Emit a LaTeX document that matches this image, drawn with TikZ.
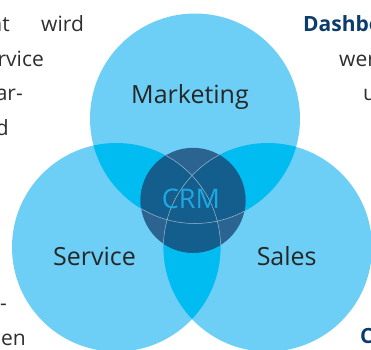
\documentclass[tikz,border=0pt]{standalone}
\usepackage{fontspec}
\setmainfont{Open Sans}
\definecolor{vennlight}{HTML}{6DCFF6}
\definecolor{vennmid}{HTML}{00BCF1}
\definecolor{crmlight}{HTML}{2B6391}
\definecolor{crmdark}{HTML}{135E8C}
\definecolor{crmtext}{HTML}{1EA8E2}
\definecolor{labeltext}{HTML}{262626}
\definecolor{bodygray}{HTML}{2E2E2E}
\definecolor{headblue}{HTML}{0B3C6B}
\tikzset{
  setlabel/.style={inner sep=0pt, text=labeltext, font=\fontsize{25}{30}\selectfont},
  bodytext/.style={inner sep=0pt, text=bodygray, font=\fontsize{21}{25}\selectfont},
  headtext/.style={inner sep=0pt, text=headblue, font=\fontsize{21}{25}\selectfont\bfseries},
  crmline/.style={draw=white!55!crmlight, line width=0.5pt}
}
\begin{document}
\begin{tikzpicture}[x=1pt,y=-1pt]
  \useasboundingbox (0,0) rectangle (371,349);
  \clip (0,0) rectangle (371,349);

  % centres
  \coordinate (mkt) at (195,118.5);
  \coordinate (svc) at (116.3,247.3);
  \coordinate (sls) at (267.7,247.3);
  \coordinate (crm) at (193,200.3);

  % text left of the diagram
  \node[bodytext, anchor=base east] (left1) at (10,31) {nt};
  \node[bodytext, anchor=base west] (left1b) at (41,31) {wird};
  \node[bodytext, anchor=base east] (left2) at (44,66) {rvice};
  \node[bodytext, anchor=base east] (left3) at (23,100) {ar-};
  \node[bodytext, anchor=base east] (left4) at (9,135) {d};
  \node[bodytext, anchor=base east] (left5) at (7,310) {-};
  \node[bodytext, anchor=base east] (left6) at (26,345) {en};

  % text right of the diagram
  \node[headtext, anchor=base west] (right1) at (303,31) {Dashbo};
  \node[bodytext, anchor=base west] (right2) at (339,66) {wer};
  \node[bodytext, anchor=base west] (right3) at (363,100) {u};
  \node[headtext, anchor=base west] (right4) at (360,343) {C};

  % the three circles
  \fill[vennlight] (mkt) circle (105pt) (svc) circle (104.3pt) (sls) circle (104.3pt);
  \begin{scope}
    \clip (mkt) circle (105pt);
    \fill[vennmid] (svc) circle (104.3pt) (sls) circle (104.3pt);
  \end{scope}
  \begin{scope}
    \clip (svc) circle (104.3pt);
    \fill[vennmid] (sls) circle (104.3pt);
  \end{scope}

  % CRM in the middle
  \fill[crmlight] (crm) circle (52.5pt);
  \begin{scope}
    \clip (crm) circle (52.5pt);
    \begin{scope}
      \clip (mkt) circle (105pt);
      \fill[crmdark] (svc) circle (104.3pt) (sls) circle (104.3pt);
    \end{scope}
    \begin{scope}
      \clip (svc) circle (104.3pt);
      \fill[crmdark] (sls) circle (104.3pt);
    \end{scope}
    \draw[crmline] (mkt) circle (105pt) (svc) circle (104.3pt) (sls) circle (104.3pt);
  \end{scope}

  % labels
  \node[setlabel, anchor=base] (mktlabel) at (190,103.3) {Marketing};
  \node[setlabel, anchor=base] (svclabel) at (94.5,265) {Service};
  \node[setlabel, anchor=base] (slslabel) at (286.7,265) {Sales};
  \node[setlabel, anchor=base, text=crmtext, font=\fontsize{27}{32}\selectfont] (crmlabel) at (191,208.3) {CRM};
\end{tikzpicture}
\end{document}
